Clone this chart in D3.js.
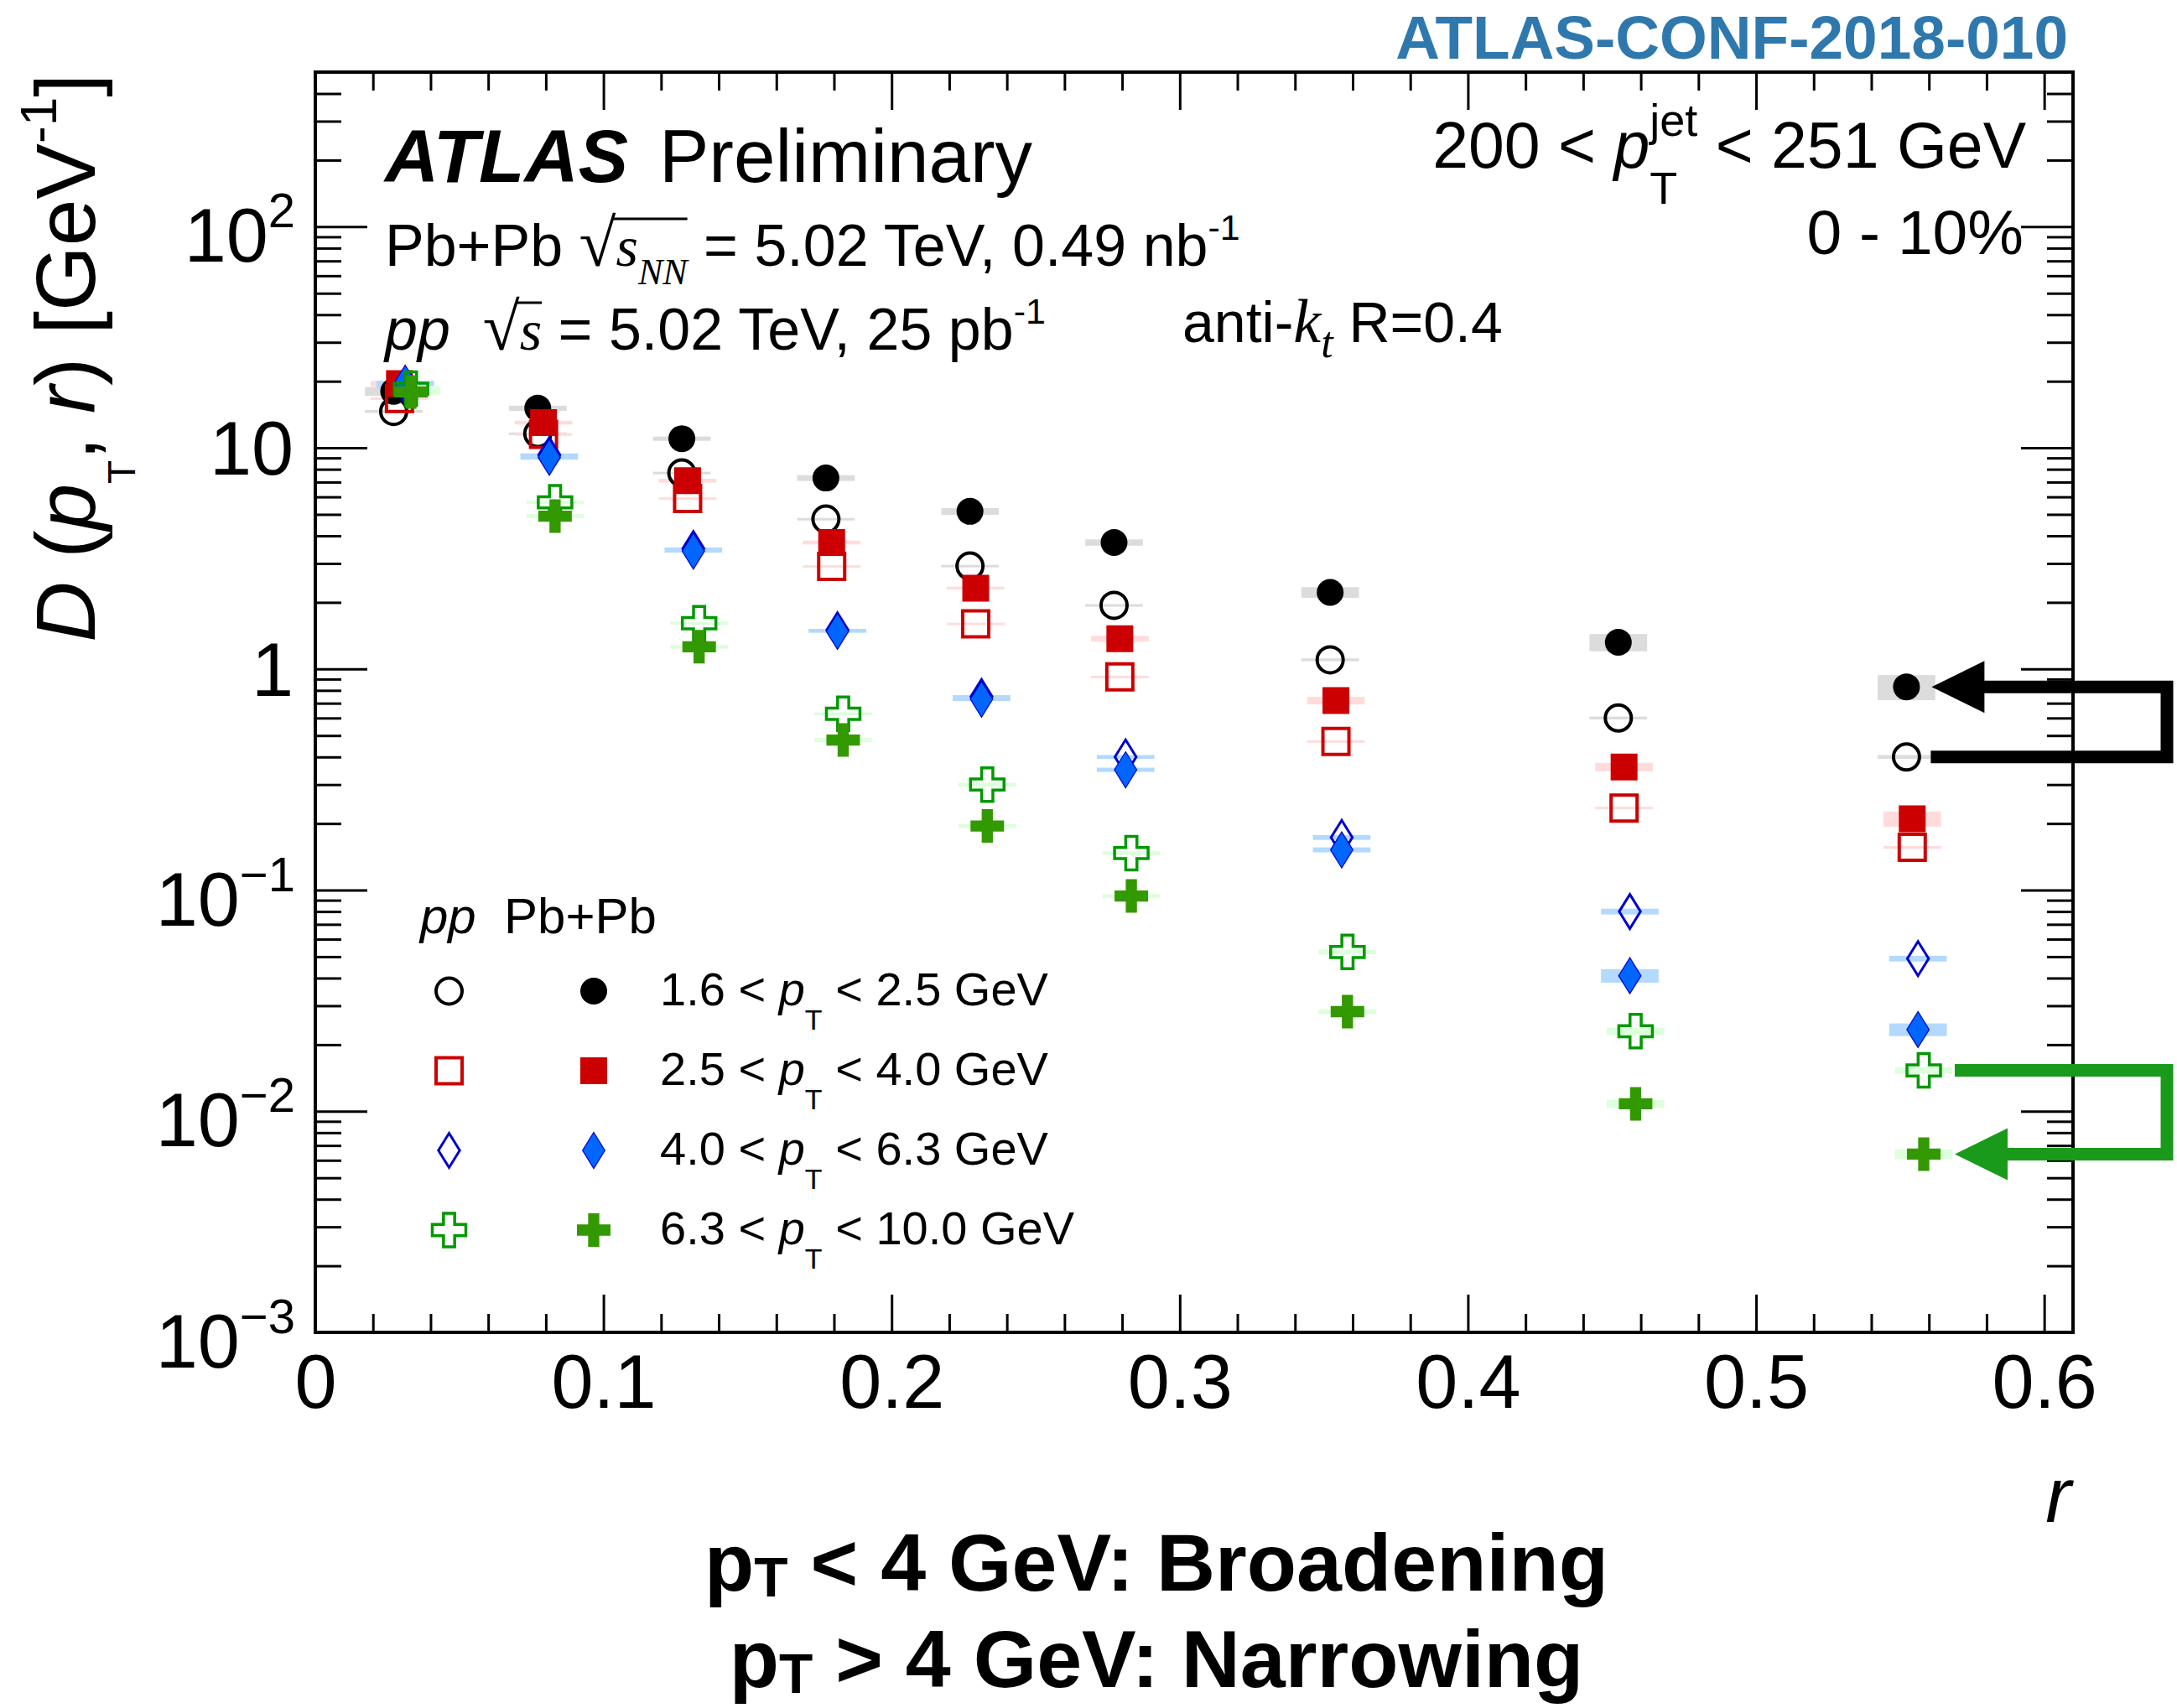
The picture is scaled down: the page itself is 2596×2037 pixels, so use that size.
<!doctype html>
<html lang="en">
<head>
    <meta charset="UTF-8">
    <title>D(pT, r) Pb+Pb vs pp</title>
    <style>
        body { margin: 0; background: #fff; }
        svg text { font-family: "Liberation Sans", Arial, Helvetica, sans-serif; white-space: pre; }
    </style>
</head>
<body>
<svg width="2596" height="2037"></svg>
<script src="https://cdn.jsdelivr.net/npm/d3@7"></script>
<script>
    // r bin centres
    const rCenters = [0.025, 0.075, 0.125, 0.175, 0.225, 0.275, 0.35, 0.45, 0.55];
    const ptLo = ["1.6", "2.5", "4.0", "6.3"];
    const ptHi = ["2.5", "4.0", "6.3", "10.0"];

    // D(pT, r) values, open = pp, filled = Pb+Pb
    const pp1 = [14.6, 11.6, 7.7, 4.76, 2.92, 1.94, 1.10, 0.60, 0.40];
    const pbpb1 = [18.0, 15.1, 11.0, 7.3, 5.16, 3.73, 2.22, 1.32, 0.83];
    const pp2 = [16.7, 11.5, 5.9, 2.91, 1.60, 0.92, 0.47, 0.235, 0.156];
    const pbpb2 = [19.5, 13.0, 7.1, 3.73, 2.32, 1.37, 0.72, 0.36, 0.21];
    const pp3 = [19.0, 9.3, 3.5, 1.5, 0.75, 0.40, 0.173, 0.080, 0.049];
    const pbpb3 = [19.6, 9.06, 3.41, 1.48, 0.73, 0.35, 0.152, 0.041, 0.0234];
    const pp4 = [18.5, 5.67, 1.61, 0.627, 0.30, 0.147, 0.0525, 0.0230, 0.0153];
    const pbpb4 = [17.9, 4.91, 1.26, 0.477, 0.195, 0.094, 0.0282, 0.0108, 0.0064];

    // relative systematic uncertainties (half height of the boxes)
    const ppSys1 = [0.015, 0.012, 0.012, 0.012, 0.012, 0.012, 0.015, 0.015, 0.02];
    const pbpbSys1 = [0.045, 0.027, 0.022, 0.03, 0.035, 0.033, 0.055, 0.09, 0.13];
    const ppSys2 = [0.012, 0.012, 0.012, 0.012, 0.012, 0.012, 0.013, 0.013, 0.015];
    const pbpbSys2 = [0.03, 0.02, 0.02, 0.02, 0.015, 0.03, 0.04, 0.045, 0.08];
    const ppSys3 = [0.02, 0.015, 0.012, 0.012, 0.015, 0.02, 0.025, 0.03, 0.03];
    const pbpbSys3 = [0.025, 0.025, 0.015, 0.015, 0.02, 0.022, 0.026, 0.07, 0.066];
    const ppSys4 = [0.03, 0.015, 0.015, 0.015, 0.02, 0.02, 0.025, 0.038, 0.033];
    const pbpbSys4 = [0.03, 0.02, 0.02, 0.02, 0.02, 0.02, 0.025, 0.04, 0.05];

    const xMajor = [0, 0.1, 0.2, 0.3, 0.4, 0.5, 0.6];
    const yMajor = [1e-3, 1e-2, 1e-1, 1, 10, 100];
    const yLabelBase = ["10", "10", "10", "1", "10", "10"];
    const yLabelExp = ["\u22123", "\u22122", "\u22121", "", "", "2"];

    const ppSeries = [pp1, pp2, pp3, pp4],
        pbpbSeries = [pbpb1, pbpb2, pbpb3, pbpb4],
        ppSys = [ppSys1, ppSys2, ppSys3, ppSys4],
        pbpbSys = [pbpbSys1, pbpbSys2, pbpbSys3, pbpbSys4];

    const shapes = ["circle", "square", "diamond", "cross"],
        lineCol = ["#000000", "#cc0000", "#0000cc", "#009900"],
        fillCol = ["#000000", "#cc0000", "#0066ff", "#339900"],
        boxCol = ["#dcdcdc", "#ffdcdc", "#b3d9ff", "#dcffdc"],
        rShift = [0.0022, 0.0042, 0.0062, 0.0082];

    const serif = "Liberation Serif, Times New Roman, serif";

    const svg = d3.select("svg"),
        margin = {top: 86, right: 124, bottom: 448, left: 376},
        width = +svg.attr("width") - margin.left - margin.right,
        height = +svg.attr("height") - margin.top - margin.bottom,
        g = svg.append("g").attr("transform", "translate(" + margin.left + "," + margin.top + ")");

    const x = d3.scaleLinear().domain([0, 0.61]).range([0, width]);
    const y = d3.scaleLog().domain([1e-3, 500]).range([height, 0]);

    // text made of runs (italic, sub/superscripts, stacked scripts)
    function rich(parent, px, py, size, runs, anchor) {
        const text = parent.append("text")
            .attr("x", px).attr("y", py)
            .attr("font-size", size)
            .attr("text-anchor", anchor || "start");
        let cur = 0, prevW = 0, pending = 0;
        const nodes = [];
        runs.forEach(function(r) {
            const ts = text.append("tspan").text(r.t);
            if (r.it) ts.attr("font-style", "italic");
            if (r.b) ts.attr("font-weight", "bold");
            if (r.fam) ts.style("font-family", r.fam);
            if (r.fs) ts.attr("font-size", r.fs);
            const sh = r.sh || 0;
            if (cur - sh) ts.attr("dy", cur - sh);
            cur = sh;
            let dx = pending;
            if (r.stack) dx -= prevW;
            if (dx) ts.attr("dx", dx);
            const w = ts.node().getComputedTextLength();
            pending = r.stack ? Math.max(0, prevW - w) : 0;
            prevW = w;
            nodes.push(ts.node());
        });
        return nodes;
    }

    function shapePath(shape, s) {
        const h = s / 2;
        if (shape === "circle") return "M" + (-h) + ",0a" + h + "," + h + " 0 1,0 " + s + ",0a" + h + "," + h + " 0 1,0 " + (-s) + ",0Z";
        if (shape === "square") return "M" + (-h) + "," + (-h) + "H" + h + "V" + h + "H" + (-h) + "Z";
        if (shape === "diamond") {
            const w = s * 0.31;
            return "M0," + (-h) + "L" + w + ",0L0," + h + "L" + (-w) + ",0Z";
        }
        const a = s / 6;
        return "M" + (-a) + "," + (-h) + "H" + a + "V" + (-a) + "H" + h + "V" + a + "H" + a + "V" + h +
            "H" + (-a) + "V" + a + "H" + (-h) + "V" + (-a) + "H" + (-a) + "Z";
    }

    const openSize = [31, 31, 41, 40], filledSize = [32, 32, 43, 40], openStroke = [4, 4, 3, 3.5];

    function drawMarker(parent, i, open, cx, cy) {
        const p = parent.append("path")
            .attr("transform", "translate(" + cx + "," + cy + ")")
            .attr("d", shapePath(shapes[i], open ? openSize[i] : filledSize[i]));
        if (open) {
            p.attr("fill", "none").attr("stroke", lineCol[i]).attr("stroke-width", openStroke[i]);
        } else {
            p.attr("fill", fillCol[i]);
            if (i === 2) p.attr("stroke", lineCol[i]).attr("stroke-width", 1.2);
        }
    }

    // ---- systematic boxes
    const boxes = g.append("g");
    for (let i = 0; i < 4; i++) {
        [[ppSeries[i], ppSys[i]], [pbpbSeries[i], pbpbSys[i]]].forEach(function(pair) {
            boxes.selectAll(null)
                .data(rCenters.map(function(r, k) { return {r: r + rShift[i], v: pair[0][k], s: pair[1][k]}; }))
                .enter().append("rect")
                .attr("x", function(d) { return x(d.r - 0.01); })
                .attr("width", function(d) { return x(d.r + 0.01) - x(d.r - 0.01); })
                .attr("y", function(d) { return y(d.v * (1 + d.s)); })
                .attr("height", function(d) { return Math.max(3, y(d.v * (1 - d.s)) - y(d.v * (1 + d.s))); })
                .attr("fill", boxCol[i]);
        });
    }

    // ---- markers
    const marks = g.append("g");
    for (let i = 0; i < 4; i++) {
        rCenters.forEach(function(r, k) {
            drawMarker(marks, i, true, x(r + rShift[i]), y(ppSeries[i][k]));
        });
        rCenters.forEach(function(r, k) {
            drawMarker(marks, i, false, x(r + rShift[i]), y(pbpbSeries[i][k]));
        });
    }

    // ---- axes
    const xMinor = d3.range(1, 31).filter(function(i) { return i % 5 !== 0; }).map(function(i) { return i / 50; });
    const yMinor = [];
    for (let k = -3; k <= 2; k++) {
        for (let m = 2; m <= 9; m++) {
            const v = m * Math.pow(10, k);
            if (v <= 500) yMinor.push(v);
        }
    }

    function styleAxis(sel) {
        sel.select(".domain").remove();
        sel.selectAll(".tick line").attr("stroke-width", 3);
    }

    g.append("g").attr("transform", "translate(0," + height + ")")
        .call(d3.axisBottom(x).tickValues(xMajor).tickSizeInner(-45).tickSizeOuter(0).tickPadding(26)
            .tickFormat(function(d) { return d === 0 ? "0" : d3.format(".1f")(d); }))
        .call(styleAxis)
        .attr("font-size", 90)
        .selectAll("text").attr("fill", "#000");
    g.append("g").attr("transform", "translate(0," + height + ")")
        .call(d3.axisBottom(x).tickValues(xMinor).tickSizeInner(-22).tickSizeOuter(0).tickFormat(""))
        .call(styleAxis);
    g.append("g")
        .call(d3.axisTop(x).tickValues(xMajor).tickSizeInner(-45).tickSizeOuter(0).tickFormat(""))
        .call(styleAxis);
    g.append("g")
        .call(d3.axisTop(x).tickValues(xMinor).tickSizeInner(-22).tickSizeOuter(0).tickFormat(""))
        .call(styleAxis);

    g.append("g")
        .call(d3.axisLeft(y).tickValues(yMajor).tickSizeInner(-62).tickSizeOuter(0).tickFormat(""))
        .call(styleAxis);
    g.append("g")
        .call(d3.axisLeft(y).tickValues(yMinor).tickSizeInner(-31).tickSizeOuter(0).tickFormat(""))
        .call(styleAxis);
    g.append("g").attr("transform", "translate(" + width + ",0)")
        .call(d3.axisRight(y).tickValues(yMajor).tickSizeInner(-62).tickSizeOuter(0).tickFormat(""))
        .call(styleAxis);
    g.append("g").attr("transform", "translate(" + width + ",0)")
        .call(d3.axisRight(y).tickValues(yMinor).tickSizeInner(-31).tickSizeOuter(0).tickFormat(""))
        .call(styleAxis);

    // y tick labels with exponents
    yMajor.forEach(function(v, k) {
        if (yLabelExp[k]) {
            rich(g, -24, y(v) + 42, 90, [{t: yLabelBase[k]}, {t: yLabelExp[k], fs: 58, sh: 41}], "end");
        } else {
            rich(g, -26, y(v) + 32, 90, [{t: yLabelBase[k]}], "end");
        }
    });

    // frame
    g.append("rect")
        .attr("width", width).attr("height", height)
        .attr("fill", "none").attr("stroke", "#000").attr("stroke-width", 4);

    // axis titles
    rich(svg, 2470, 1815, 92, [{t: "r", it: true}], "end");
    const yTitle = svg.append("g").attr("transform", "translate(113,88) rotate(-90)");
    rich(yTitle, 0, 0, 100, [
        {t: "D", it: true}, {t: " ("}, {t: "p", it: true}, {t: "T", fs: 46, sh: -48},
        {t: ", "}, {t: "r", it: true}, {t: ") [GeV"}, {t: "-1", fs: 62, sh: 46}, {t: "]"}
    ], "end");

    // ---- arrows: pp -> Pb+Pb at the last r bin
    const last = rCenters.length - 1,
        xTurn = width + 112;
    [[0, 29, 30, "#000000"], [3, 37, 37, "#1a9a1a"]].forEach(function(a) {
        const i = a[0],
            xm = x(rCenters[last] + rShift[i]),
            y1 = y(ppSeries[i][last]),
            y2 = y(pbpbSeries[i][last]),
            tip = xm + a[2];
        g.append("path")
            .attr("d", "M" + (xm + a[1]) + "," + y1 + "H" + xTurn + "V" + y2 + "H" + (tip + 50))
            .attr("fill", "none").attr("stroke", a[3]).attr("stroke-width", 15);
        g.append("path")
            .attr("d", "M" + tip + "," + y2 + "L" + (tip + 63) + "," + (y2 - 31) + "V" + (y2 + 31) + "Z")
            .attr("fill", a[3]);
    });

    // ---- labels
    rich(svg, 2466, 70, 73, [{t: "ATLAS-CONF-2018-010", b: true}], "end")[0].setAttribute("fill", "#2f78ad");
    rich(svg, 459, 217, 89, [{t: "ATLAS", b: true, it: true}]);
    rich(svg, 786, 217, 89, [{t: "Preliminary"}]);

    const l1 = rich(svg, 459, 317, 70, [
        {t: "Pb+Pb "}, {t: "\u221a", fam: serif, fs: 80}, {t: "s", it: true, fam: serif, fs: 68},
        {t: "NN", it: true, fam: serif, fs: 44, sh: -22}, {t: " = 5.02 TeV, 0.49 nb"}, {t: "-1", fs: 43, sh: 31}
    ]);
    const l2 = rich(svg, 459, 417, 70, [
        {t: "pp", it: true}, {t: "  "}, {t: "\u221a", fam: serif, fs: 80}, {t: "s", it: true, fam: serif, fs: 68},
        {t: " = 5.02 TeV, 25 pb"}, {t: "-1", fs: 43, sh: 31}
    ]);
    // overlines of the square roots
    [[l1, 1, 3, 317], [l2, 2, 3, 417]].forEach(function(o) {
        const a = o[0][o[1]], b = o[0][o[2]];
        const x0 = a.getEndPositionOfChar(0).x - 4,
            x1 = b.getEndPositionOfChar(b.getNumberOfChars() - 1).x;
        svg.append("line")
            .attr("x1", x0).attr("x2", x1)
            .attr("y1", o[3] - 56).attr("y2", o[3] - 56)
            .attr("stroke", "#000").attr("stroke-width", 3);
    });

    rich(svg, 2416, 200, 77, [
        {t: "200 < "}, {t: "p", it: true}, {t: "jet", fs: 54, sh: 38}, {t: "T", fs: 54, sh: -43, stack: true},
        {t: " < 251 GeV"}
    ], "end");
    rich(svg, 2413, 303, 75, [{t: "0 - 10%"}], "end");
    rich(svg, 1410, 408, 68, [
        {t: "anti-"}, {t: "k", it: true, fam: serif, fs: 74}, {t: "t", it: true, fam: serif, fs: 52, sh: -18},
        {t: " R=0.4"}
    ]);

    // ---- legend
    rich(svg, 501, 1113, 60, [{t: "pp", it: true}, {t: "  Pb+Pb"}]);
    ptLo.forEach(function(lo, i) {
        const ly = 1182 + 95 * i;
        drawMarker(svg, i, true, 535.5, ly);
        drawMarker(svg, i, false, 708, ly);
        rich(svg, 787, ly + 17, 56, [
            {t: lo + " < "}, {t: "p", it: true}, {t: "T", fs: 34, sh: -29}, {t: " < " + ptHi[i] + " GeV"}
        ]);
    });

    // ---- bottom remarks
    rich(svg, 1379, 1897, 97, [
        {t: "p", b: true}, {t: "T", b: true, fs: 66, sh: -7}, {t: " < 4 GeV: Broadening", b: true}
    ], "middle");
    rich(svg, 1379, 2012, 97, [
        {t: "p", b: true}, {t: "T", b: true, fs: 66, sh: -7}, {t: " > 4 GeV: Narrowing", b: true}
    ], "middle");
</script>
</body>
</html>
